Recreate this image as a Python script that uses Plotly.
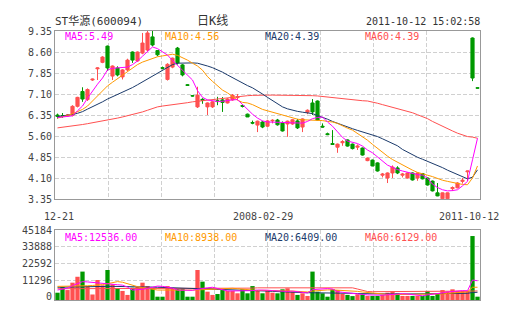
import plotly.graph_objects as go

# ---------------- data ----------------
opens = [6.35, 6.33, 6.31, 6.34, 6.66, 7.19, 6.90, 7.60, 8.00, 8.23,
         8.81, 7.74, 8.03, 7.71, 7.96, 8.60, 8.28, 8.56, 8.67, 9.14,
         8.65, 8.04, 7.62, 8.06, 8.74, 8.14, 7.43, 7.04, 6.64, 6.91,
         6.64, 6.64, 6.86, 6.89, 6.78, 6.89, 6.97, 6.69, 6.38, 6.08,
         5.99, 6.10, 5.95, 6.14, 6.17, 6.06, 6.03, 6.03, 6.14, 5.92,
         6.45, 6.78, 6.85, 5.95, 5.68, 5.33, 5.20, 5.36, 5.46, 5.31,
         5.20, 5.17, 4.72, 4.74, 4.64, 4.20, 4.10, 4.28, 4.46, 4.20,
         4.10, 4.28, 4.10, 4.26, 4.10, 3.99, 3.57, 3.36, 3.36, 3.72,
         3.75, 3.98, 4.32, 9.10, 7.32]
highs = [6.40, 6.42, 6.38, 6.70, 7.00, 7.34, 7.30, 7.65, 8.05, 8.45,
         8.83, 8.12, 8.09, 7.99, 8.36, 8.62, 8.62, 9.28, 9.35, 9.35,
         8.67, 8.08, 8.20, 8.40, 8.78, 8.17, 7.45, 7.06, 7.36, 6.95,
         6.80, 6.84, 7.00, 6.99, 6.95, 7.10, 7.10, 6.72, 6.40, 6.15,
         6.15, 6.14, 6.18, 6.20, 6.21, 6.12, 6.15, 6.20, 6.21, 6.23,
         6.55, 6.92, 6.87, 6.05, 5.72, 5.81, 5.33, 5.45, 5.48, 5.33,
         5.30, 5.19, 4.83, 4.76, 4.66, 4.28, 4.30, 4.55, 4.52, 4.28,
         4.30, 4.30, 4.30, 4.28, 4.12, 4.01, 3.92, 3.58, 3.58, 3.80,
         3.95, 4.10, 4.36, 9.12, 7.33]
lows = [6.22, 6.25, 6.28, 6.30, 6.62, 6.82, 6.85, 7.57, 7.60, 8.20,
        7.92, 7.60, 7.73, 7.62, 7.92, 8.21, 8.25, 8.52, 8.62, 8.80,
        8.45, 7.98, 7.58, 8.02, 8.15, 7.73, 7.40, 7.01, 6.60, 6.75,
        6.35, 6.60, 6.70, 6.46, 6.76, 6.86, 6.88, 6.62, 6.28, 6.02,
        5.74, 5.88, 5.92, 6.05, 5.97, 5.76, 5.57, 6.00, 5.85, 5.74,
        6.38, 6.35, 6.15, 5.90, 5.63, 5.29, 5.00, 5.25, 5.22, 5.12,
        5.10, 4.90, 4.70, 4.52, 4.33, 4.12, 3.92, 4.10, 4.24, 4.12,
        4.08, 4.01, 4.00, 4.05, 3.83, 3.62, 3.45, 3.35, 3.35, 3.64,
        3.73, 3.90, 3.99, 7.56, 7.30]
closes = [6.30, 6.31, 6.35, 6.66, 6.98, 6.92, 7.26, 7.63, 8.03, 8.42,
          8.03, 8.10, 7.78, 7.96, 8.31, 8.31, 8.60, 8.92, 9.28, 8.85,
          8.50, 8.02, 8.16, 8.38, 8.21, 7.78, 7.41, 7.03, 7.06, 6.88,
          6.78, 6.82, 6.83, 6.80, 6.92, 7.06, 7.00, 6.66, 6.28, 6.06,
          6.13, 5.92, 6.14, 6.16, 6.00, 5.78, 6.13, 6.18, 5.89, 6.21,
          6.52, 6.46, 6.17, 5.92, 5.65, 5.30, 5.31, 5.40, 5.24, 5.15,
          5.24, 4.92, 4.81, 4.53, 4.35, 4.24, 4.28, 4.49, 4.28, 4.24,
          4.28, 4.03, 4.28, 4.07, 3.85, 3.64, 3.46, 3.57, 3.57, 3.76,
          3.92, 4.02, 4.35, 7.67, 7.31]

ma5 = [6.26, 6.28, 6.30, 6.32, 6.50, 6.67, 6.95, 7.21, 7.45, 7.67,
       7.96, 8.02, 8.03, 8.04, 8.06, 8.15, 8.28, 8.45, 8.62, 8.78,
       8.72, 8.62, 8.49, 8.30, 8.12, 7.95, 7.78, 7.60, 7.22, 6.98,
       6.89, 6.85, 6.83, 6.84, 6.87, 6.89, 6.90, 6.72, 6.55, 6.38,
       6.24, 6.14, 6.10, 6.10, 6.10, 6.10, 6.08, 6.07, 6.06, 6.06,
       6.12, 6.22, 6.26, 6.28, 6.10, 5.95, 5.75, 5.55, 5.42, 5.37,
       5.33, 5.24, 5.10, 5.00, 4.85, 4.68, 4.56, 4.48, 4.40, 4.35,
       4.30, 4.25, 4.22, 4.20, 4.10, 3.88, 3.76, 3.68, 3.64, 3.65,
       3.68, 3.82, 3.98, 4.75, 5.52]
ma10 = [6.24, 6.28, 6.33, 6.39, 6.46, 6.55, 6.67, 6.85, 7.03, 7.21,
        7.39, 7.52, 7.65, 7.78, 7.90, 8.03, 8.15, 8.24, 8.31, 8.38,
        8.43, 8.46, 8.50, 8.52, 8.48, 8.40, 8.31, 8.20, 8.10, 7.95,
        7.72, 7.55, 7.38, 7.24, 7.14, 7.00, 6.88, 6.80, 6.78, 6.72,
        6.62, 6.55, 6.50, 6.45, 6.40, 6.36, 6.30, 6.25, 6.20, 6.18,
        6.17, 6.17, 6.17, 6.15, 6.12, 6.10, 6.05, 5.96, 5.88, 5.81,
        5.70, 5.58, 5.45, 5.30, 5.15, 5.00, 4.88, 4.76, 4.66, 4.56,
        4.46, 4.38, 4.30, 4.24, 4.20, 4.15, 4.08, 4.02, 3.98, 3.94,
        3.90, 3.87, 3.86, 4.10, 4.53]
ma20 = [6.29, 6.31, 6.34, 6.37, 6.41, 6.47, 6.56, 6.64, 6.73, 6.82,
        6.92, 7.00, 7.08, 7.16, 7.24, 7.33, 7.43, 7.53, 7.63, 7.73,
        7.84, 7.96, 8.06, 8.15, 8.20, 8.21, 8.21, 8.21, 8.20, 8.16,
        8.10, 8.04, 7.97, 7.88, 7.78, 7.68, 7.58, 7.48, 7.40, 7.32,
        7.22, 7.10, 6.98, 6.86, 6.74, 6.64, 6.57, 6.52, 6.48, 6.45,
        6.43, 6.40, 6.33, 6.27, 6.20, 6.12, 6.05, 5.98, 5.92, 5.86,
        5.80, 5.75, 5.70, 5.65, 5.58, 5.50, 5.42, 5.35, 5.25, 5.12,
        5.02, 4.93, 4.84, 4.77, 4.70, 4.62, 4.55, 4.47, 4.38, 4.30,
        4.22, 4.15, 4.07, 4.13, 4.39]
ma60 = [5.89, 5.91, 5.93, 5.95, 5.98, 6.01, 6.04, 6.07, 6.10, 6.13,
        6.16, 6.20, 6.24, 6.28, 6.32, 6.36, 6.41, 6.46, 6.52, 6.58,
        6.64, 6.67, 6.69, 6.71, 6.74, 6.76, 6.79, 6.82, 6.84, 6.87,
        6.90, 6.92, 6.94, 6.96, 6.98, 7.00, 7.02, 7.03, 7.04, 7.05,
        7.06, 7.06, 7.06, 7.06, 7.06, 7.06, 7.06, 7.06, 7.06, 7.05,
        7.05, 7.04, 7.03, 7.01, 6.99, 6.97, 6.95, 6.92, 6.90, 6.88,
        6.87, 6.86, 6.85, 6.82, 6.77, 6.72, 6.67, 6.62, 6.58, 6.54,
        6.49, 6.43, 6.36, 6.30, 6.22, 6.12, 6.03, 5.95, 5.87, 5.78,
        5.70, 5.63, 5.58, 5.56, 5.52]

volumes = [2700, 6600, 4500, 9500, 13500, 17000, 7200, 1500, 11300, 7700,
           18100, 8400, 5400, 3900, 1200, 6100, 6600, 9500, 7200, 5700,
           0, 0, 7200, 5700, 5200, 5700, 0, 0, 18100, 10200,
           3400, 1200, 1800, 4500, 3900, 3900, 2300, 5000, 2300, 7200,
           4500, 2300, 4500, 2700, 2300, 5000, 5700, 3400, 1200, 2300,
           500, 17000, 3400, 2300, 0, 5000, 4500, 2000, 1200, 400,
           1600, 1600, 500, 500, 500, 1200, 2700, 3400, 2300, 500,
           500, 500, 500, 500, 3900, 500, 2300, 4500, 3400, 5000,
           3900, 3900, 3900, 41100, 0]
vma5 = [4500, 5000, 5800, 7500, 9000, 10200, 10000, 9600, 9400, 9000,
        8800, 8400, 8100, 7800, 6500, 4500, 4600, 5000, 5600, 6400,
        7200, 7000, 6600, 5800, 4500, 4300, 4100, 4300, 5000, 5700,
        6000, 6400, 5600, 4500, 3900, 3900, 3900, 3900, 4000, 4100,
        4500, 4600, 4400, 4100, 3900, 3600, 3600, 3800, 3400, 3200,
        2500, 4800, 5200, 5300, 5500, 5200, 3400, 3000, 2500, 2000,
        1600, 1500, 1200, 1000, 900, 1000, 1300, 1600, 2000, 2000,
        1800, 1400, 1200, 600, 1200, 1500, 2000, 2600, 3200, 3600,
        3900, 4100, 4000, 11300, 10800]
vma10 = [7000, 7000, 6900, 6900, 7000, 7200, 7400, 7600, 7800, 8200,
         8800, 9600, 10200, 9800, 8800, 7600, 6800, 6200, 5600, 5000,
         4500, 4500, 4600, 4700, 4700, 4600, 4500, 4500, 4500, 4600,
         4800, 5000, 5200, 5400, 5600, 5700, 5400, 5000, 4600, 4300,
         4200, 4300, 4300, 4200, 4100, 4000, 3900, 3800, 3600, 3400,
         3200, 3800, 4200, 4400, 4600, 4600, 4500, 4400, 4200, 3900,
         3600, 3200, 2800, 2400, 2000, 1700, 1500, 1400, 1400, 1500,
         1600, 1600, 1500, 1400, 1500, 1500, 1600, 1900, 2200, 2500,
         2800, 3100, 3300, 6400, 6400]
vma20 = [6400, 6500, 6600, 6700, 6800, 6900, 7000, 7000, 7000, 7000,
         7000, 7000, 7000, 6900, 6800, 6700, 6600, 6600, 6600, 6500,
         6400, 6300, 6200, 6000, 5800, 5700, 5600, 5500, 5400, 5300,
         5200, 5100, 5000, 5000, 5000, 4900, 4800, 4600, 4400, 4200,
         4100, 4000, 3800, 3600, 3400, 3300, 3200, 3000, 2900, 2800,
         2700, 2700, 2700, 2700, 2700, 2700, 2600, 2500, 2400, 2300,
         2100, 2000, 1900, 1800, 1800, 1800, 1800, 1800, 1800, 1800,
         1800, 1800, 1800, 1800, 1800, 1800, 1800, 1800, 1900, 2000,
         2100, 2200, 2300, 2800, 3000]
vma60 = [5400, 5400, 5400, 5400, 5400, 5400, 5400, 5400, 5400, 5400,
         5400, 5400, 5400, 5400, 5400, 5400, 5400, 5400, 5400, 5400,
         5500, 5500, 5500, 5600, 5600, 5600, 5700, 5700, 5700, 5800,
         5800, 5800, 5800, 5800, 5800, 5800, 5800, 5800, 5800, 5800,
         6000, 6000, 6100, 6100, 6100, 6200, 6200, 6200, 6200, 6200,
         6200, 6200, 6200, 6200, 6200, 6200, 6200, 6200, 6200, 6000,
         5200, 4200, 3500, 3400, 3400, 3400, 3400, 3400, 3400, 3400,
         3400, 3400, 3400, 3400, 3300, 3300, 3300, 3300, 3300, 3300,
         3300, 3400, 3500, 3800, 3900]

price_ticks = [3.35, 4.10, 4.85, 5.60, 6.35, 7.10, 7.85, 8.60, 9.35]
vol_ticks = [0, 11296, 22592, 33888, 45184]
date_labels = ["12-21", "2008-02-29", "2011-10-12"]
title_text = "ST华源(600094)"
kline_text = "日K线"
time_text = "2011-10-12 15:02:58"
price_legend = ["MA5:5.49", "MA10:4.56", "MA20:4.39", "MA60:4.39"]
vol_legend = ["MA5:12536.00", "MA10:8938.00", "MA20:6409.00", "MA60:6129.00"]

# ---------------- style ----------------
RED = "#FF5050"
GREEN = "#009900"
MA_COLORS = ["#FF00FF", "#FF9900", "#1B3A6B", "#FF5050"]
GRID = "#D0D0D0"
BORDER = "#999999"
TXT = "#444444"
FONT = "DejaVu Sans Mono, Noto Sans CJK SC, monospace"

W, H = 505, 330
L, R, T, B = 55, 25, 31, 30
PW, PH = W - L - R, H - T - B
n = len(opens)
idx = list(range(n))

def py(p):
    return (H - B - p) / PH

def px(p):
    return (p - L) / PW

fig = go.Figure()

fig.add_trace(go.Candlestick(
    x=idx, open=opens, high=highs, low=lows, close=closes,
    increasing=dict(line=dict(color=RED, width=1), fillcolor=RED),
    decreasing=dict(line=dict(color=GREEN, width=1), fillcolor=GREEN),
    whiskerwidth=0, xaxis="x", yaxis="y", hoverinfo="skip", showlegend=False))

for arr, col in [(ma60, MA_COLORS[3]), (ma20, MA_COLORS[2]), (ma10, MA_COLORS[1]), (ma5, MA_COLORS[0])]:
    fig.add_trace(go.Scatter(x=idx, y=arr, mode="lines", line=dict(color=col, width=1),
                             xaxis="x", yaxis="y", hoverinfo="skip", showlegend=False, cliponaxis=True))

vol_min = -2240
bar_colors = [RED if c >= o else GREEN for o, c in zip(opens, closes)]
fig.add_trace(go.Bar(x=idx, y=[v - vol_min for v in volumes], base=vol_min,
                     marker=dict(color=bar_colors, line=dict(width=0)),
                     xaxis="x2", yaxis="y2", hoverinfo="skip", showlegend=False))
for arr, col in [(vma60, MA_COLORS[3]), (vma20, MA_COLORS[2]), (vma10, MA_COLORS[1]), (vma5, MA_COLORS[0])]:
    fig.add_trace(go.Scatter(x=idx, y=arr, mode="lines", line=dict(color=col, width=1),
                             xaxis="x2", yaxis="y2", hoverinfo="skip", showlegend=False))

grid_x = [-0.5 + k * n / 8 for k in range(1, 8)]
xcommon = dict(range=[-0.5, n - 0.5], tickvals=grid_x, showticklabels=False, ticks="",
               showgrid=True, gridcolor=GRID, griddash="4px,2px", gridwidth=1,
               showline=True, linecolor=BORDER, linewidth=1, mirror=True,
               zeroline=False, fixedrange=True)
tickfont = dict(family=FONT, size=10, color=TXT)

price_bottom = 199
vol_top = 230
fig.update_layout(
    width=W, height=H, margin=dict(l=L, r=R, t=T, b=B),
    paper_bgcolor="white", plot_bgcolor="white", showlegend=False,
    bargap=0.14, boxgap=0.1,
    xaxis=dict(domain=[0, 1], anchor="y", rangeslider=dict(visible=False), **xcommon),
    xaxis2=dict(domain=[0, 1], anchor="y2", matches="x", rangeslider=dict(visible=False), **xcommon),
    yaxis=dict(domain=[py(price_bottom), 1], range=[price_ticks[0], price_ticks[-1]],
               tickvals=price_ticks, ticktext=[f"{v:.2f}" for v in price_ticks],
               tickfont=tickfont, ticks="", showgrid=True, gridcolor=GRID, griddash="4px,2px",
               showline=True, linecolor=BORDER, mirror=True, zeroline=False, fixedrange=True),
    yaxis2=dict(domain=[0, py(vol_top)], range=[vol_min, vol_ticks[-1]],
                tickvals=vol_ticks, ticktext=[str(v) for v in vol_ticks],
                tickfont=tickfont, ticks="", showgrid=True, gridcolor=GRID, griddash="4px,2px",
                showline=True, linecolor=BORDER, mirror=True, zeroline=True,
                zerolinecolor="white", zerolinewidth=1, fixedrange=True),
)

anns = []
def ann(text, x, y, color=TXT, xanchor="left", size=10):
    anns.append(dict(text=text, x=px(x), y=py(y), xref="paper", yref="paper",
                     xanchor=xanchor, yanchor="middle", showarrow=False,
                     font=dict(family=FONT, size=size, color=color), borderpad=0))

ann(title_text, 54, 21, "#333333", "left", 11)
ann(kline_text, 212, 21, "#333333", "center", 12)
ann(time_text, 481, 21, "#333333", "right", 10)
for k, (t, c) in enumerate(zip(price_legend, MA_COLORS)):
    ann(t, 64 + 100 * k, 37, c, "left", 10)
for k, (t, c) in enumerate(zip(vol_legend, MA_COLORS)):
    ann(t, 64 + 100 * k, 237, c, "left", 10)
ann(date_labels[0], 59, 216, TXT, "center", 10)
ann(date_labels[1], 263, 216, TXT, "center", 10)
ann(date_labels[2], 500, 216, TXT, "right", 10)
fig.update_layout(annotations=anns)

fig.write_html("out.html")
